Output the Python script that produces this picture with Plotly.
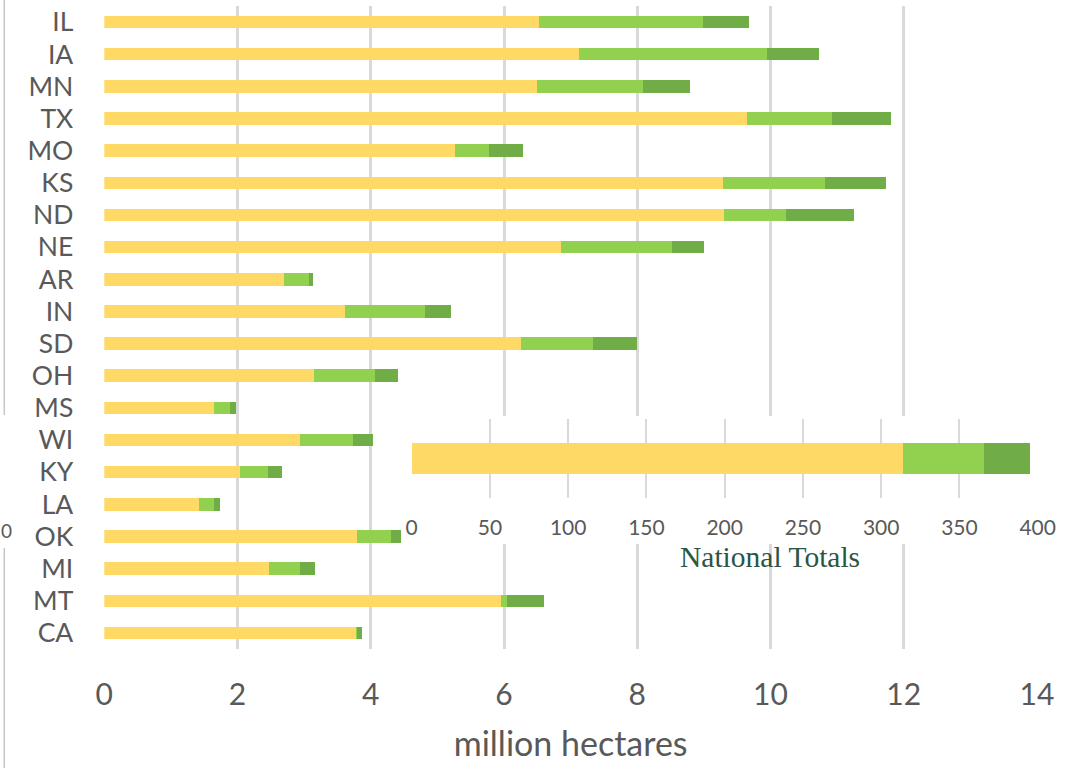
import plotly.graph_objects as go

# ---- data (million hectares) ----
states = ["IL", "IA", "MN", "TX", "MO", "KS", "ND", "NE", "AR", "IN",
          "SD", "OH", "MS", "WI", "KY", "LA", "OK", "MI", "MT", "CA"]
tier_1 = [6.52, 7.12, 6.50, 9.65, 5.26, 9.28, 9.30, 6.85, 2.69, 3.61,
          6.25, 3.15, 1.64, 2.93, 2.04, 1.42, 3.80, 2.47, 5.96, 3.79]
tier_2 = [2.46, 2.83, 1.59, 1.28, 0.51, 1.54, 0.93, 1.67, 0.38, 1.21,
          1.08, 0.92, 0.24, 0.81, 0.41, 0.22, 0.50, 0.46, 0.08, 0.01]
tier_3 = [0.70, 0.78, 0.70, 0.88, 0.51, 0.91, 1.02, 0.48, 0.07, 0.38,
          0.67, 0.34, 0.10, 0.30, 0.21, 0.10, 0.15, 0.24, 0.56, 0.07]

national_label = ["US"]
national_1 = [313.7]
national_2 = [52.2]
national_3 = [29.0]

main_ticks = [0, 2, 4, 6, 8, 10, 12, 14]
inset_ticks = [0, 50, 100, 150, 200, 250, 300, 350, 400]

# ---- styling ----
W, H = 1091, 768
YELLOW, LIGHT_GREEN, DARK_GREEN = "#FFD966", "#92D050", "#70AD47"
GRID = "#D9D9D9"
TEXT = "#595959"
FONT = "Lato"


def px_x(p):
    return p / W


def px_y(p):
    return 1 - p / H


fig = go.Figure()

series = [("Tier 1", tier_1, national_1, YELLOW),
          ("Tier 2", tier_2, national_2, LIGHT_GREEN),
          ("Tier 3", tier_3, national_3, DARK_GREEN)]

for name, vals, nat, col in series:
    fig.add_trace(go.Bar(
        y=states, x=vals, orientation="h", name=name,
        marker=dict(color=col, line=dict(width=0)),
        xaxis="x", yaxis="y", showlegend=False))

# blank white panel sitting under the national-totals inset
fig.add_trace(go.Scatter(x=[], y=[], xaxis="x2", yaxis="y2",
                         showlegend=False, hoverinfo="skip"))

for name, vals, nat, col in series:
    fig.add_trace(go.Bar(
        y=national_label, x=nat, orientation="h", name=name,
        marker=dict(color=col, line=dict(width=0)),
        xaxis="x3", yaxis="y3", showlegend=False))

fig.update_layout(
    width=W, height=H,
    margin=dict(l=0, r=0, t=0, b=0, autoexpand=False),
    paper_bgcolor="white", plot_bgcolor="white",
    barmode="stack", bargap=0.61,
    font=dict(family=FONT, color=TEXT),
    xaxis=dict(
        domain=[px_x(104.3), px_x(1037)], range=[0, 14],
        tickvals=main_ticks, ticktext=[str(t) for t in main_ticks],
        showgrid=True, gridcolor=GRID, gridwidth=3, zeroline=False,
        showline=False, ticks="", tickfont=dict(size=30, color=TEXT),
        ticklabelstandoff=25, automargin=False,
        title=dict(text="million hectares", font=dict(size=34, color=TEXT),
                   standoff=22),
        anchor="y"),
    yaxis=dict(
        domain=[px_y(649), px_y(6)], range=[len(states) - 0.5, -0.5],
        categoryorder="array", categoryarray=states,
        tickmode="array", tickvals=states, ticktext=states,
        showgrid=False, zeroline=False, showline=False, ticks="",
        tickfont=dict(size=26.5, color=TEXT), ticklabelstandoff=30,
        automargin=False, anchor="x"),
    xaxis2=dict(domain=[px_x(403), px_x(1075)], range=[0, 1],
                visible=False, anchor="y2", showgrid=False, zeroline=False,
                automargin=False),
    yaxis2=dict(domain=[px_y(544), px_y(416)], range=[0, 1],
                visible=False, anchor="x2", showgrid=False, zeroline=False,
                automargin=False),
    xaxis3=dict(
        domain=[px_x(411.7), px_x(1037.7)], range=[0, 400],
        tickvals=inset_ticks, ticktext=[str(t) for t in inset_ticks],
        showgrid=True, gridcolor=GRID, gridwidth=2, zeroline=False,
        showline=False, ticks="", tickfont=dict(size=21, color=TEXT),
        ticklabelstandoff=15, automargin=False, anchor="y3"),
    yaxis3=dict(
        domain=[px_y(498), px_y(419)], range=[-0.5, 0.5],
        showgrid=False, zeroline=False, showline=False,
        showticklabels=False, ticks="", automargin=False, anchor="x3"),
)

fig.add_annotation(
    text="National Totals", xref="paper", yref="paper",
    x=px_x(770), y=px_y(557), xanchor="center", yanchor="middle",
    showarrow=False,
    font=dict(family="Liberation Serif", size=29.5, color="#2C5545"))

# stray axis fragment at the far left edge
fig.add_annotation(
    text="0", xref="paper", yref="paper", x=px_x(6), y=px_y(530),
    xanchor="center", yanchor="middle", showarrow=False,
    font=dict(family=FONT, size=19, color=TEXT))
for y0, y1 in [(0, 415), (548, 768)]:
    fig.add_shape(type="line", xref="paper", yref="paper",
                  x0=px_x(4.3), x1=px_x(4.3), y0=px_y(y0), y1=px_y(y1),
                  line=dict(color="#C6C6C6", width=1.5), layer="above")

# page body without default margins so the fixed-size figure fills the window
fig.write_html(
    "out.html",
    post_script="document.body.style.margin='0';"
                "document.body.style.overflow='hidden';")
